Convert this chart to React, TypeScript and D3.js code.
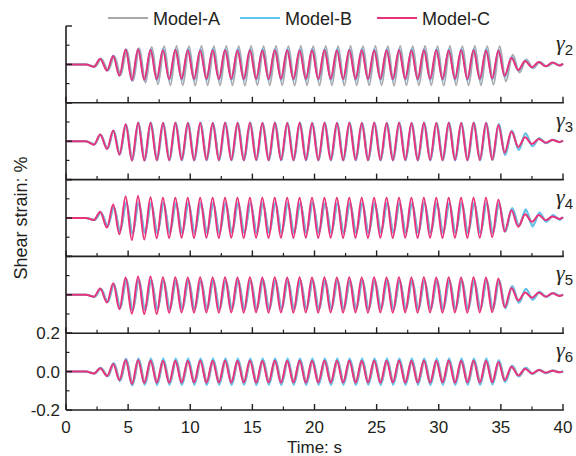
import * as d3 from "d3";

// time of each turning point (s), shared by every trace
const extremaTimes = [
  0, 1.6, 2.25, 2.75, 3.3, 3.8,
  4.3, 4.8, 5.3, 5.8, 6.3, 6.8, 7.3, 7.8, 8.3, 8.8,
  9.3, 9.8, 10.3, 10.8, 11.3, 11.8, 12.3, 12.8, 13.3, 13.8,
  14.3, 14.8, 15.3, 15.8, 16.3, 16.8, 17.3, 17.8, 18.3, 18.8,
  19.3, 19.8, 20.3, 20.8, 21.3, 21.8, 22.3, 22.8, 23.3, 23.8,
  24.3, 24.8, 25.3, 25.8, 26.3, 26.8, 27.3, 27.8, 28.3, 28.8,
  29.3, 29.8, 30.3, 30.8, 31.3, 31.8, 32.3, 32.8, 33.3, 33.8,
  34.3, 34.8, 35.3,
  35.85, 36.4, 36.95, 37.5, 38.05, 38.6, 39.15, 39.7, 40,
];

// gamma 2
const gamma2A = [
  0, 0, -0.012, 0.028, -0.03, 0.042,
  -0.056, 0.075, -0.085, 0.084, -0.095, 0.09, -0.104, 0.095, -0.108, 0.096,
  -0.108, 0.095, -0.11, 0.096, -0.108, 0.095, -0.109, 0.096, -0.108, 0.095,
  -0.11, 0.096, -0.108, 0.095, -0.109, 0.096, -0.108, 0.095, -0.11, 0.096,
  -0.108, 0.095, -0.109, 0.096, -0.108, 0.095, -0.11, 0.096, -0.108, 0.095,
  -0.109, 0.096, -0.108, 0.095, -0.11, 0.096, -0.108, 0.095, -0.109, 0.096,
  -0.108, 0.095, -0.11, 0.096, -0.108, 0.095, -0.109, 0.096, -0.108, 0.095,
  -0.106, 0.094, -0.088,
  0.05, -0.042, 0.026, -0.02, 0.013, -0.01, 0.008, -0.006, 0,
];
const gamma2B = [
  0, 0, -0.012, 0.03, -0.033, 0.046,
  -0.06, 0.079, -0.085, 0.081, -0.083, 0.079, -0.082, 0.08, -0.081, 0.079,
  -0.081, 0.08, -0.082, 0.079, -0.081, 0.08, -0.082, 0.079, -0.081, 0.08,
  -0.082, 0.079, -0.081, 0.08, -0.082, 0.079, -0.081, 0.08, -0.082, 0.079,
  -0.081, 0.08, -0.082, 0.079, -0.081, 0.08, -0.082, 0.079, -0.081, 0.08,
  -0.082, 0.079, -0.081, 0.08, -0.082, 0.079, -0.081, 0.08, -0.082, 0.079,
  -0.081, 0.08, -0.082, 0.079, -0.081, 0.08, -0.082, 0.079, -0.081, 0.08,
  -0.079, 0.076, -0.065,
  0.038, -0.032, 0.02, -0.016, 0.012, -0.01, 0.009, -0.006, 0.004,
];
const gamma2C = [
  0, 0, -0.012, 0.03, -0.032, 0.044,
  -0.058, 0.077, -0.082, 0.079, -0.08, 0.076, -0.078, 0.075, -0.077, 0.076,
  -0.076, 0.075, -0.077, 0.074, -0.076, 0.075, -0.077, 0.075, -0.076, 0.074,
  -0.077, 0.075, -0.076, 0.074, -0.077, 0.075, -0.076, 0.075, -0.077, 0.074,
  -0.076, 0.075, -0.077, 0.075, -0.076, 0.074, -0.077, 0.075, -0.076, 0.075,
  -0.077, 0.074, -0.076, 0.075, -0.077, 0.075, -0.076, 0.074, -0.077, 0.075,
  -0.076, 0.075, -0.077, 0.074, -0.076, 0.075, -0.077, 0.075, -0.076, 0.074,
  -0.074, 0.072, -0.06,
  0.035, -0.03, 0.018, -0.015, 0.012, -0.01, 0.01, -0.006, 0.004,
];

// gamma 3
const gamma3A = [
  0, 0, -0.016, 0.033, -0.038, 0.054,
  -0.068, 0.086, -0.098, 0.094, -0.099, 0.095, -0.097, 0.094, -0.098, 0.095,
  -0.097, 0.094, -0.098, 0.095, -0.097, 0.094, -0.098, 0.095, -0.097, 0.094,
  -0.098, 0.095, -0.097, 0.094, -0.098, 0.095, -0.097, 0.094, -0.098, 0.095,
  -0.097, 0.094, -0.098, 0.095, -0.097, 0.094, -0.098, 0.095, -0.097, 0.094,
  -0.098, 0.095, -0.097, 0.094, -0.098, 0.095, -0.097, 0.094, -0.098, 0.095,
  -0.097, 0.094, -0.098, 0.095, -0.097, 0.094, -0.098, 0.095, -0.097, 0.094,
  -0.096, 0.09, -0.072,
  0.055, -0.045, 0.04, -0.025, 0.015, -0.01, 0.008, -0.005, 0.003,
];
const gamma3B = [
  0, 0, -0.017, 0.034, -0.04, 0.056,
  -0.07, 0.088, -0.1, 0.097, -0.101, 0.097, -0.1, 0.096, -0.1, 0.097,
  -0.1, 0.096, -0.101, 0.097, -0.1, 0.096, -0.1, 0.097, -0.101, 0.096,
  -0.1, 0.097, -0.1, 0.096, -0.101, 0.097, -0.1, 0.096, -0.1, 0.097,
  -0.101, 0.096, -0.1, 0.097, -0.1, 0.096, -0.101, 0.097, -0.1, 0.096,
  -0.1, 0.097, -0.101, 0.096, -0.1, 0.097, -0.1, 0.096, -0.101, 0.097,
  -0.1, 0.096, -0.1, 0.097, -0.101, 0.096, -0.1, 0.097, -0.1, 0.096,
  -0.098, 0.09, -0.072,
  0.056, -0.046, 0.042, -0.027, 0.016, -0.011, 0.008, -0.005, 0.003,
];
const gamma3C = [
  0, 0, -0.018, 0.035, -0.04, 0.056,
  -0.07, 0.088, -0.1, 0.096, -0.101, 0.096, -0.099, 0.095, -0.099, 0.096,
  -0.098, 0.095, -0.099, 0.096, -0.098, 0.095, -0.099, 0.096, -0.098, 0.095,
  -0.099, 0.096, -0.098, 0.095, -0.099, 0.096, -0.098, 0.095, -0.099, 0.096,
  -0.098, 0.095, -0.099, 0.096, -0.098, 0.095, -0.099, 0.096, -0.098, 0.095,
  -0.099, 0.096, -0.098, 0.095, -0.099, 0.096, -0.098, 0.095, -0.099, 0.096,
  -0.098, 0.095, -0.099, 0.096, -0.098, 0.095, -0.099, 0.096, -0.098, 0.095,
  -0.097, 0.085, -0.06,
  0.05, -0.03, 0.02, -0.015, 0.012, -0.008, 0.006, -0.004, 0.003,
];

// gamma 4
const gamma4A = [
  0, 0, -0.01, 0.028, -0.04, 0.055,
  -0.068, 0.08, -0.08, 0.078, -0.077, 0.076, -0.076, 0.077, -0.076, 0.076,
  -0.077, 0.076, -0.076, 0.077, -0.076, 0.076, -0.077, 0.076, -0.076, 0.077,
  -0.076, 0.076, -0.077, 0.076, -0.076, 0.077, -0.076, 0.076, -0.077, 0.076,
  -0.076, 0.077, -0.076, 0.076, -0.077, 0.076, -0.076, 0.077, -0.076, 0.076,
  -0.077, 0.076, -0.076, 0.077, -0.076, 0.076, -0.077, 0.076, -0.076, 0.077,
  -0.076, 0.076, -0.077, 0.076, -0.076, 0.077, -0.076, 0.076, -0.077, 0.076,
  -0.076, 0.075, -0.07,
  0.05, -0.04, 0.038, -0.036, 0.025, -0.018, 0.012, -0.008, 0.004,
];
const gamma4B = [
  0, 0, -0.01, 0.029, -0.041, 0.057,
  -0.07, 0.082, -0.082, 0.08, -0.079, 0.078, -0.078, 0.079, -0.078, 0.078,
  -0.079, 0.078, -0.078, 0.079, -0.078, 0.078, -0.079, 0.078, -0.078, 0.079,
  -0.078, 0.078, -0.079, 0.078, -0.078, 0.079, -0.078, 0.078, -0.079, 0.078,
  -0.078, 0.079, -0.078, 0.078, -0.079, 0.078, -0.078, 0.079, -0.078, 0.078,
  -0.079, 0.078, -0.078, 0.079, -0.078, 0.078, -0.079, 0.078, -0.078, 0.079,
  -0.078, 0.078, -0.079, 0.078, -0.078, 0.079, -0.078, 0.078, -0.079, 0.078,
  -0.078, 0.076, -0.072,
  0.052, -0.04, 0.045, -0.045, 0.028, -0.02, 0.015, -0.01, 0.005,
];
const gamma4C = [
  0, 0, -0.01, 0.033, -0.05, 0.07,
  -0.085, 0.112, -0.115, 0.114, -0.112, 0.108, -0.106, 0.105, -0.104, 0.106,
  -0.103, 0.105, -0.104, 0.106, -0.103, 0.105, -0.104, 0.106, -0.103, 0.105,
  -0.104, 0.106, -0.103, 0.105, -0.104, 0.106, -0.103, 0.105, -0.104, 0.106,
  -0.103, 0.105, -0.104, 0.106, -0.103, 0.105, -0.104, 0.106, -0.103, 0.105,
  -0.104, 0.106, -0.103, 0.105, -0.104, 0.106, -0.103, 0.105, -0.104, 0.106,
  -0.103, 0.105, -0.104, 0.106, -0.103, 0.105, -0.104, 0.106, -0.103, 0.105,
  -0.1, 0.095, -0.07,
  0.04, -0.045, 0.02, -0.02, 0.015, -0.012, 0.008, -0.005, 0.003,
];

// gamma 5
const gamma5A = [
  0, 0, -0.01, 0.03, -0.037, 0.055,
  -0.07, 0.08, -0.08, 0.078, -0.078, 0.076, -0.076, 0.075, -0.076, 0.075,
  -0.075, 0.076, -0.076, 0.075, -0.075, 0.076, -0.076, 0.075, -0.075, 0.076,
  -0.076, 0.075, -0.075, 0.076, -0.076, 0.075, -0.075, 0.076, -0.076, 0.075,
  -0.075, 0.076, -0.076, 0.075, -0.075, 0.076, -0.076, 0.075, -0.075, 0.076,
  -0.076, 0.075, -0.075, 0.076, -0.076, 0.075, -0.075, 0.076, -0.076, 0.075,
  -0.075, 0.076, -0.076, 0.075, -0.075, 0.076, -0.076, 0.075, -0.075, 0.076,
  -0.075, 0.075, -0.07,
  0.045, -0.04, 0.03, -0.025, 0.015, -0.01, 0.01, -0.005, 0.003,
];
const gamma5B = [
  0, 0, -0.01, 0.031, -0.038, 0.056,
  -0.071, 0.081, -0.081, 0.079, -0.079, 0.077, -0.077, 0.076, -0.077, 0.076,
  -0.076, 0.077, -0.077, 0.076, -0.076, 0.077, -0.077, 0.076, -0.076, 0.077,
  -0.077, 0.076, -0.076, 0.077, -0.077, 0.076, -0.076, 0.077, -0.077, 0.076,
  -0.076, 0.077, -0.077, 0.076, -0.076, 0.077, -0.077, 0.076, -0.076, 0.077,
  -0.077, 0.076, -0.076, 0.077, -0.077, 0.076, -0.076, 0.077, -0.077, 0.076,
  -0.076, 0.077, -0.077, 0.076, -0.076, 0.077, -0.077, 0.076, -0.076, 0.077,
  -0.076, 0.076, -0.07,
  0.046, -0.042, 0.032, -0.026, 0.016, -0.011, 0.01, -0.005, 0.003,
];
const gamma5C = [
  0, 0, -0.01, 0.033, -0.04, 0.06,
  -0.075, 0.09, -0.098, 0.095, -0.1, 0.095, -0.1, 0.092, -0.094, 0.091,
  -0.092, 0.09, -0.093, 0.091, -0.092, 0.09, -0.093, 0.091, -0.092, 0.09,
  -0.093, 0.091, -0.092, 0.09, -0.093, 0.091, -0.092, 0.09, -0.093, 0.091,
  -0.092, 0.09, -0.093, 0.091, -0.092, 0.09, -0.093, 0.091, -0.092, 0.09,
  -0.093, 0.091, -0.092, 0.09, -0.093, 0.091, -0.092, 0.09, -0.093, 0.091,
  -0.092, 0.09, -0.093, 0.091, -0.092, 0.09, -0.093, 0.091, -0.092, 0.09,
  -0.09, 0.085, -0.065,
  0.035, -0.03, 0.012, -0.015, 0.012, -0.01, 0.008, -0.006, 0,
];

// gamma 6
const gamma6A = [
  0, 0, -0.01, 0.019, -0.024, 0.042,
  -0.047, 0.062, -0.066, 0.062, -0.062, 0.06, -0.06, 0.059, -0.06, 0.06,
  -0.06, 0.059, -0.06, 0.06, -0.06, 0.059, -0.06, 0.06, -0.06, 0.059,
  -0.06, 0.06, -0.06, 0.059, -0.06, 0.06, -0.06, 0.059, -0.06, 0.06,
  -0.06, 0.059, -0.06, 0.06, -0.06, 0.059, -0.06, 0.06, -0.06, 0.059,
  -0.06, 0.06, -0.06, 0.059, -0.06, 0.06, -0.06, 0.059, -0.06, 0.06,
  -0.06, 0.059, -0.06, 0.06, -0.06, 0.059, -0.06, 0.06, -0.06, 0.059,
  -0.058, 0.055, -0.05,
  0.03, -0.025, 0.02, -0.012, 0.01, -0.008, 0.006, -0.004, 0.002,
];
const gamma6B = [
  0, 0, -0.01, 0.02, -0.025, 0.045,
  -0.05, 0.068, -0.072, 0.07, -0.07, 0.07, -0.071, 0.069, -0.07, 0.07,
  -0.071, 0.07, -0.07, 0.069, -0.071, 0.07, -0.07, 0.07, -0.071, 0.069,
  -0.07, 0.07, -0.071, 0.07, -0.07, 0.069, -0.071, 0.07, -0.07, 0.07,
  -0.071, 0.069, -0.07, 0.07, -0.071, 0.07, -0.07, 0.069, -0.071, 0.07,
  -0.07, 0.07, -0.071, 0.069, -0.07, 0.07, -0.071, 0.07, -0.07, 0.069,
  -0.071, 0.07, -0.07, 0.07, -0.071, 0.069, -0.07, 0.07, -0.071, 0.07,
  -0.068, 0.06, -0.055,
  0.03, -0.025, 0.02, -0.012, 0.01, -0.008, 0.006, -0.004, 0.002,
];
const gamma6C = [
  0, 0, -0.01, 0.018, -0.023, 0.04,
  -0.045, 0.06, -0.065, 0.06, -0.06, 0.058, -0.058, 0.057, -0.058, 0.057,
  -0.058, 0.057, -0.057, 0.058, -0.058, 0.057, -0.057, 0.058, -0.058, 0.057,
  -0.057, 0.058, -0.058, 0.057, -0.057, 0.058, -0.058, 0.057, -0.057, 0.058,
  -0.058, 0.057, -0.057, 0.058, -0.058, 0.057, -0.057, 0.058, -0.058, 0.057,
  -0.057, 0.058, -0.058, 0.057, -0.057, 0.058, -0.058, 0.057, -0.057, 0.058,
  -0.058, 0.057, -0.057, 0.058, -0.058, 0.057, -0.057, 0.058, -0.058, 0.057,
  -0.056, 0.05, -0.045,
  0.025, -0.02, 0.015, -0.01, 0.008, -0.006, 0.005, -0.004, 0,
];

const modelNames = ["Model-A", "Model-B", "Model-C"];
const modelColors = ["#a7a9ac", "#5ec8f2", "#e8337a"];
const panelSubscripts = ["2", "3", "4", "5", "6"];
const panelSeries = [
  [gamma2A, gamma2B, gamma2C],
  [gamma3A, gamma3B, gamma3C],
  [gamma4A, gamma4B, gamma4C],
  [gamma5A, gamma5B, gamma5C],
  [gamma6A, gamma6B, gamma6C],
];
// phase lag (s) of Model-A and Model-B behind Model-C, per panel
const lagA = [0.1, 0.05, 0.07, 0.08, 0.08];
const lagB = [0.02, 0.03, 0.05, 0.05, 0.03];

const xMajor = [0, 5, 10, 15, 20, 25, 30, 35, 40];
const xMinor = [2.5, 7.5, 12.5, 17.5, 22.5, 27.5, 32.5, 37.5];
const yMajor = [0.2, 0, -0.2];
const yMinor = [0.1, -0.1];
const yTickLabels = ["0.2", "0.0", "-0.2"];

const W = 576;
const H = 456;
const left = 66;
const right = 563;
const top = 26;
const bottom = 410;
const sans = "'Liberation Sans', Arial, Helvetica, sans-serif";
const axisColor = "#231f20";

export default function App() {
  const panelH = (bottom - top) / panelSeries.length;
  const x = d3.scaleLinear().domain([0, 40]).range([left, right]);

  const panels = panelSeries.map((series, i) => {
    const y = d3
      .scaleLinear()
      .domain([-0.2, 0.2])
      .range([top + (i + 1) * panelH, top + i * panelH]);
    const line = d3
      .line<[number, number]>()
      .x((d) => x(d[0]))
      .y((d) => y(d[1]))
      .curve(d3.curveMonotoneX);
    const lags = [lagA[i], lagB[i], 0];
    const paths = series.map((vals, m) => {
      const pts: [number, number][] = vals.map((v, k) => {
        const t = extremaTimes[k];
        return [t > 1.6 && t < 40 ? t + lags[m] : t, v];
      });
      return line(pts) || "";
    });
    return { y, paths, yBottom: top + (i + 1) * panelH };
  });

  const legendX = [108, 240, 377];

  return (
    <svg
      width={W}
      height={H}
      style={{ position: "absolute", left: 0, top: 0, background: "#fff" }}
      fontFamily={sans}
    >
      <rect width={W} height={H} fill="#fff" />

      {/* traces */}
      {panels.map((p, i) => (
        <g key={"p" + i}>
          {p.paths.map((d, m) => (
            <path
              key={m}
              d={d}
              fill="none"
              stroke={modelColors[m]}
              strokeWidth={2}
              strokeLinejoin="round"
            />
          ))}
        </g>
      ))}

      {/* axes */}
      <line x1={left} x2={left} y1={top} y2={bottom} stroke={axisColor} strokeWidth={1.6} />
      {panels.map((p, i) => (
        <g key={"a" + i} stroke={axisColor}>
          <line x1={left} x2={right + 0.8} y1={p.yBottom} y2={p.yBottom} strokeWidth={1.6} />
          {xMajor.map((t) => (
            <line key={"M" + t} x1={x(t)} x2={x(t)} y1={p.yBottom} y2={p.yBottom - 6} strokeWidth={1.4} />
          ))}
          {xMinor.map((t) => (
            <line key={"m" + t} x1={x(t)} x2={x(t)} y1={p.yBottom} y2={p.yBottom - 3.5} strokeWidth={1.2} />
          ))}
          {yMajor.map((v) => (
            <line key={"yM" + v} x1={left} x2={left + 6} y1={p.y(v)} y2={p.y(v)} strokeWidth={1.4} />
          ))}
          {yMinor.map((v) => (
            <line key={"ym" + v} x1={left} x2={left + 3.5} y1={p.y(v)} y2={p.y(v)} strokeWidth={1.2} />
          ))}
        </g>
      ))}

      {/* panel labels */}
      {panels.map((p, i) => (
        <text
          key={"g" + i}
          x={556}
          y={top + i * panelH + 24}
          fontFamily="'Liberation Serif', 'Times New Roman', serif"
          fontStyle="italic"
          fontSize={22}
          fill="#231f20"
        >
          γ
          <tspan fontFamily={sans} fontStyle="normal" fontSize={15} dy={5}>
            {panelSubscripts[i]}
          </tspan>
        </text>
      ))}

      {/* tick labels on the bottom panel */}
      {yMajor.map((v, k) => (
        <text
          key={"yl" + k}
          x={60}
          y={panels[4].y(v) + 6}
          textAnchor="end"
          fontSize={17}
          fill="#231f20"
        >
          {yTickLabels[k]}
        </text>
      ))}
      {xMajor.map((t) => (
        <text key={"xl" + t} x={x(t)} y={433} textAnchor="middle" fontSize={17} fill="#231f20">
          {t}
        </text>
      ))}

      <text x={(left + right) / 2} y={453} textAnchor="middle" fontSize={17} fill="#231f20">
        Time: s
      </text>
      <text
        transform={`translate(27, ${(top + bottom) / 2}) rotate(-90)`}
        textAnchor="middle"
        fontSize={18}
        fill="#231f20"
      >
        Shear strain: %
      </text>

      {/* legend */}
      {modelNames.map((name, m) => (
        <g key={name}>
          <line
            x1={legendX[m]}
            x2={legendX[m] + 40}
            y1={18}
            y2={18}
            stroke={modelColors[m]}
            strokeWidth={2}
          />
          <text x={legendX[m] + 45} y={24.5} fontSize={18} fill="#231f20">
            {name}
          </text>
        </g>
      ))}
    </svg>
  );
}
